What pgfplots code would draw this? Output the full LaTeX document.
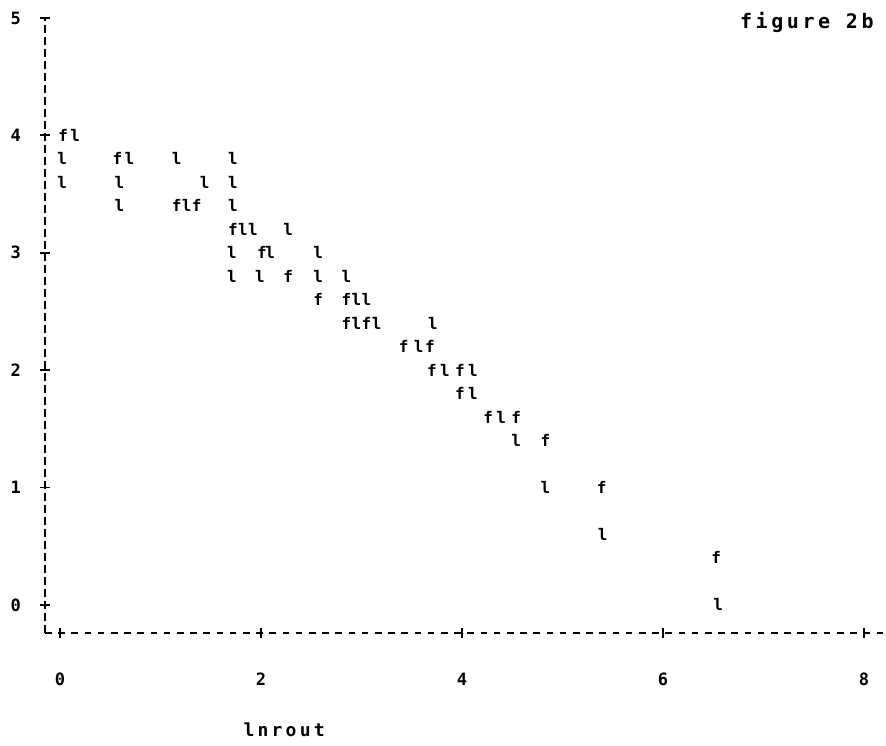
\documentclass[border=0pt]{standalone}
\usepackage{fontspec}
\newfontfamily\pf{DejaVu Sans Mono}
\newfontfamily\pfs[LetterSpace=18]{DejaVu Sans Mono}
\usepackage{pgfplots}
\usepackage{pgfplotstable}
\pgfplotsset{compat=1.18}

\pgfplotstableread{
x y
0.03 4.0
0.57 3.8
1.16 3.4
1.36 3.4
1.72 3.2
2.01 3.0
2.27 2.8
2.57 2.6
2.85 2.6
2.85 2.4
3.05 2.4
3.42 2.2
3.68 2.2
3.70 2.0
3.98 2.0
3.98 1.8
4.26 1.6
4.54 1.6
4.83 1.4
5.39 1.0
6.53 0.4
}\fdata

\pgfplotstableread{
x y
0.15 4.0
0.02 3.8
0.69 3.8
1.16 3.8
1.72 3.8
0.02 3.6
0.59 3.6
1.44 3.6
1.72 3.6
0.59 3.4
1.26 3.4
1.72 3.4
1.82 3.2
1.92 3.2
2.27 3.2
1.71 3.0
2.09 3.0
2.57 3.0
1.71 2.8
1.99 2.8
2.57 2.8
2.85 2.8
2.95 2.6
3.05 2.6
2.95 2.4
3.15 2.4
3.71 2.4
3.57 2.2
3.83 2.0
4.11 2.0
4.11 1.8
4.39 1.6
4.54 1.4
4.83 1.0
5.40 0.6
6.55 0.0
}\ldata

\begin{document}
\begin{tikzpicture}
\begin{axis}[
  scale only axis, width=419.5pt, height=307.5pt,
  xmin=-0.15, xmax=8.2, ymin=-0.24, ymax=5,
  axis lines*=left,
  x axis line style={line width=0.9pt, dash pattern=on 3.3pt off 3.3pt},
  y axis line style={line width=0.9pt, dash pattern=on 4pt off 2pt},
  xtick={0,2,4,6,8}, ytick={0,1,2,3,4,5},
  tick align=center, major tick length=5pt,
  tick style={line width=0.9pt, solid, black},
  /pgf/number format/assume math mode=true,
  tick label style={font=\fontsize{8.5}{10}\selectfont\pf\bfseries},
  xticklabel shift=14pt,
  yticklabel shift=6pt,
  every axis title shift=0pt,
  title={figure 2b},
  title style={font=\fontsize{10}{12}\selectfont\pfs\bfseries, at={(axis description cs:0.908,0.9935)}, anchor=center},
  xlabel={lnrout},
  xlabel style={font=\fontsize{9}{11}\selectfont\pfs\bfseries, at={(axis description cs:0.285,-0.158)}, anchor=center},
  clip=false,
]
\coordinate (sw) at (rel axis cs:0,0);
\addplot[only marks, mark=text, text mark={f}, text mark as node=true,
  text mark style={font=\fontsize{8}{10}\selectfont\pf\bfseries, inner sep=0pt, anchor=center}] table[x=x,y=y] {\fdata};
\addplot[only marks, mark=text, text mark={l}, text mark as node=true,
  text mark style={font=\fontsize{8}{10}\selectfont\pf\bfseries, inner sep=0pt, anchor=center}] table[x=x,y=y] {\ldata};
\end{axis}
\pgfresetboundingbox
\path[use as bounding box] (sw) ++(-22.5pt,-56pt) rectangle ++(443pt,372.5pt);
\end{tikzpicture}
\end{document}
